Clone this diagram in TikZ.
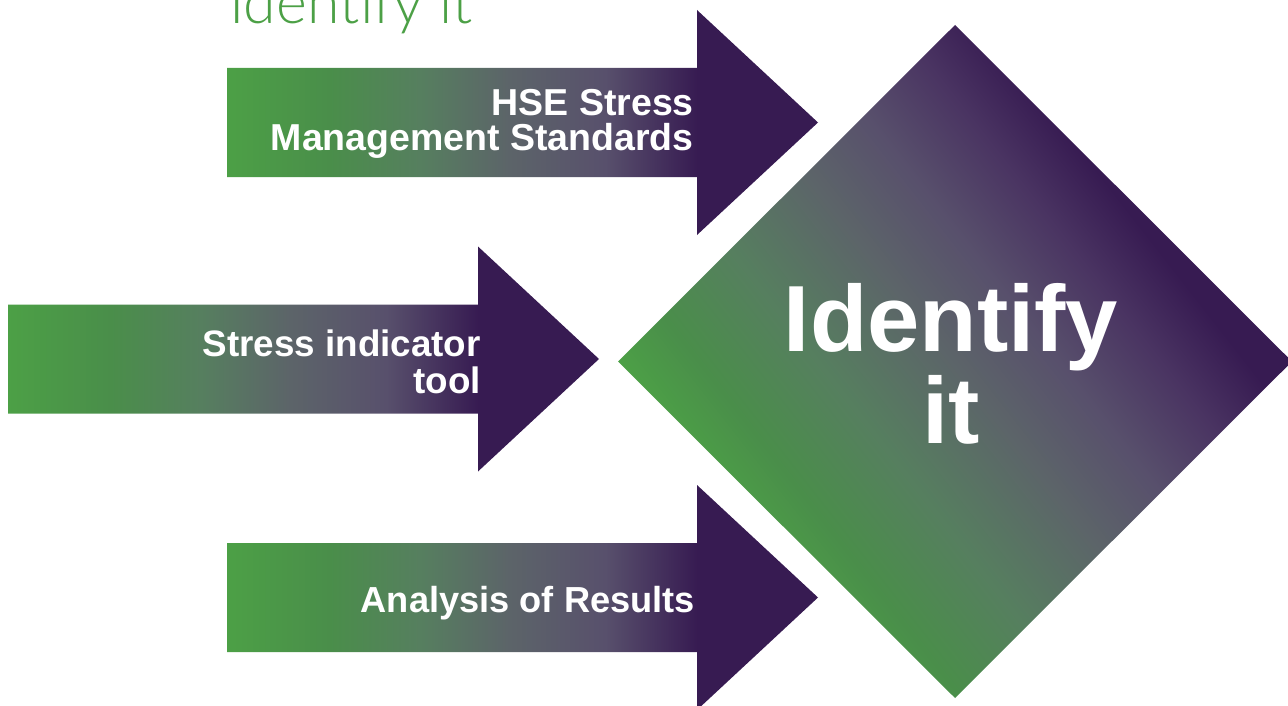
\documentclass[tikz,border=0pt]{standalone}
\usepackage{fontspec}
\setmainfont{Liberation Sans}
\newfontfamily\thinfont{Lato Light}

\definecolor{hsegreen}{HTML}{4CA046}
\definecolor{darkgreen}{HTML}{4A8E4A}
\definecolor{midgreen}{HTML}{567F5F}
\definecolor{slate}{HTML}{5C6469}
\definecolor{mauve}{HTML}{58506C}
\definecolor{deepmauve}{HTML}{4A3462}
\definecolor{hsepurple}{HTML}{371B52}

\pgfdeclarehorizontalshading{arrowfade}{100bp}{%
  color(0bp)=(hsegreen); color(25bp)=(hsegreen); color(33.7bp)=(darkgreen);
  color(41.3bp)=(midgreen); color(48.9bp)=(slate); color(57bp)=(mauve);
  color(64.8bp)=(hsepurple); color(100bp)=(hsepurple)}
\pgfdeclarehorizontalshading{diamondfade}{100bp}{%
  color(0bp)=(hsegreen); color(30.3bp)=(hsegreen); color(35bp)=(darkgreen);
  color(42bp)=(midgreen); color(50bp)=(slate); color(56bp)=(mauve);
  color(62bp)=(deepmauve); color(67bp)=(hsepurple); color(100bp)=(hsepurple)}

\begin{document}
\begin{tikzpicture}[x=1pt,y=-1pt,
  lbl/.style 2 args={text=white,font=\bfseries\fontsize{#1}{#2}\selectfont,align=right,inner sep=0pt},
  big/.style={text=white,font=\bfseries\fontsize{94}{92}\selectfont,align=center,inner sep=0pt}]
\useasboundingbox (0,0) rectangle (1288,706);
% Diamond
\shade[shading=diamondfade,shading angle=38]
  (618,361.5) -- (955,25) -- (1292,361.5) -- (955,698) -- cycle;
% Arrows
\shade[shading=arrowfade] (227,68) -- (697,68) -- (697,10) -- (818,122.5)
  -- (697,235) -- (697,177) -- (227,177) -- cycle;
\shade[shading=arrowfade] (8,304.5) -- (478,304.5) -- (478,246.5) -- (599,359)
  -- (478,471.5) -- (478,413.5) -- (8,413.5) -- cycle;
\shade[shading=arrowfade] (227,543) -- (697,543) -- (697,485) -- (818,597.5)
  -- (697,710) -- (697,652) -- (227,652) -- cycle;
% Labels
\node[lbl={37.5}{35},anchor=north east] (hse) at (694,89.5) {HSE Stress\\Management Standards};
\node[lbl={36.8}{37},anchor=north east] (indicator) at (481,329.5) {Stress indicator\\tool};
\node[lbl={36.2}{36},anchor=north east] (results) at (695,586) {Analysis of Results};
\node[big,anchor=north] (identify) at (951,283) {Identify\\it};
\node[anchor=base west,text=hsegreen,font=\thinfont\fontsize{59}{59}\selectfont,inner sep=0pt]
  (title) at (229,24) {Identify it};
\end{tikzpicture}
\end{document}
